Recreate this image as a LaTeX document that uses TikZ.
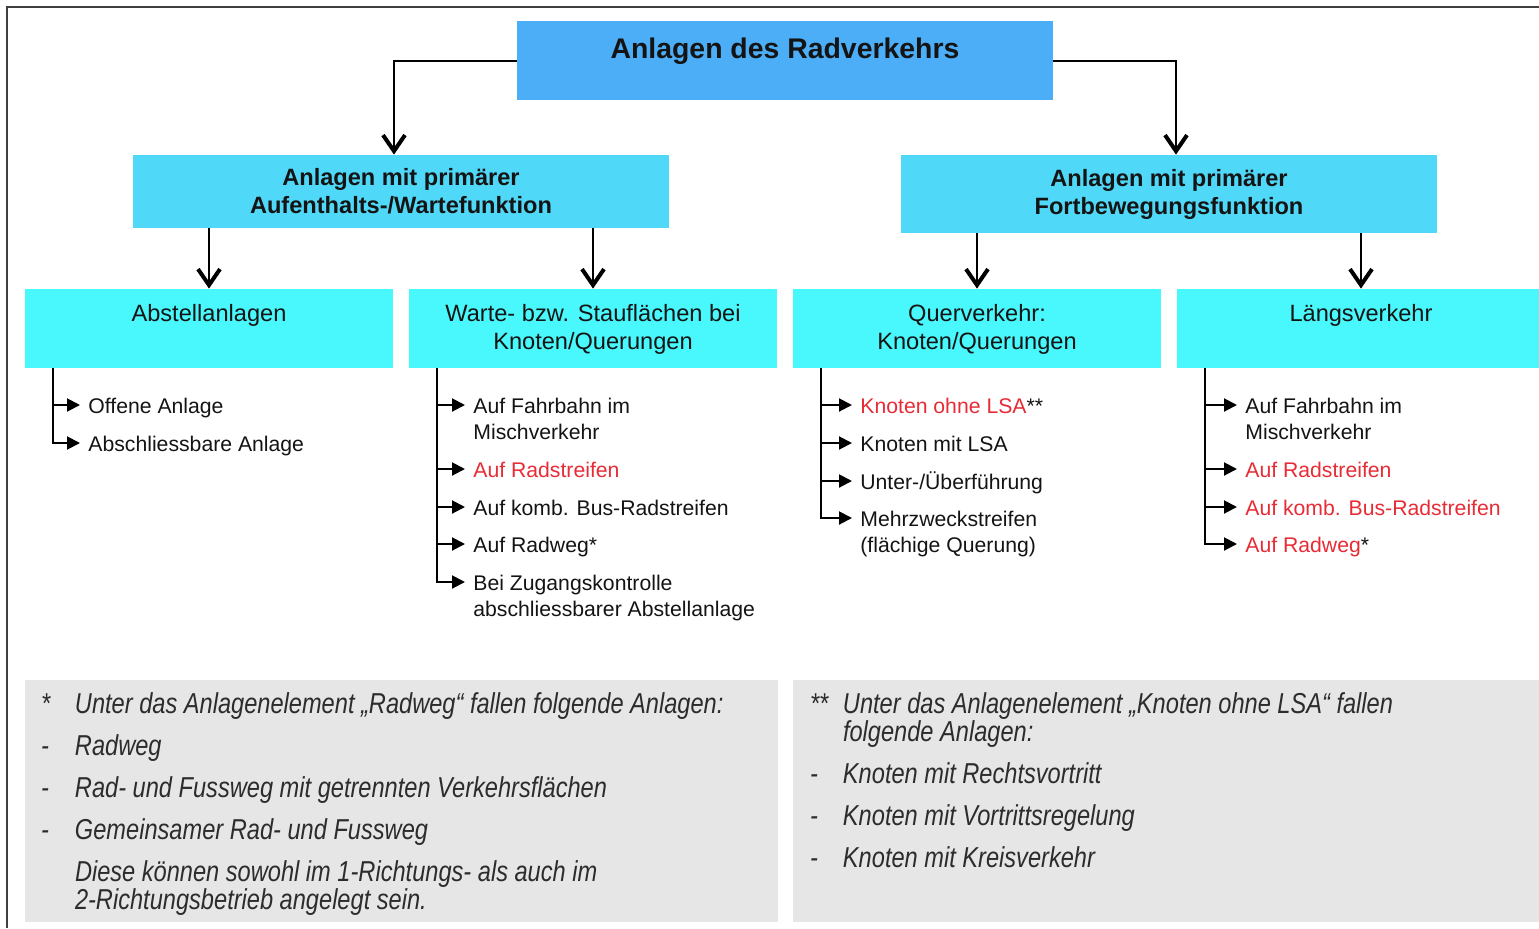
\documentclass[tikz,border=0pt]{standalone}
\usepackage{fontspec}
\setmainfont{Liberation Sans}
\newfontfamily\notefont[FakeStretch=0.82]{Liberation Sans}
\usepackage{xcolor}
\usepackage{tikz}
\usetikzlibrary{arrows.meta,positioning}
\definecolor{topblue}{RGB}{77,174,248}
\definecolor{midblue}{RGB}{80,216,248}
\definecolor{lowcyan}{RGB}{72,248,252}
\definecolor{notegray}{RGB}{230,230,230}
\definecolor{hired}{RGB}{232,44,54}
\definecolor{ink}{RGB}{20,20,20}
\tikzset{
  topbox/.style={fill=topblue, minimum width=268pt, minimum height=39.5pt, inner sep=0pt},
  titletext/.style={inner sep=0pt, font=\fontsize{14.2}{16}\selectfont\bfseries, text=ink},
  groupbox/.style={fill=midblue, minimum width=268pt, align=center, font=\fontsize{11.8}{14}\selectfont\bfseries, text=ink},
  typebox/.style={fill=lowcyan, minimum width=184pt, minimum height=39.5pt, inner sep=0pt},
  typetext/.style={inner sep=0pt, align=center, font=\fontsize{11.8}{14}\selectfont, text=ink},
  entry/.style={anchor=north west, inner sep=0pt, align=left, font=\fontsize{10.6}{13}\selectfont, text=ink},
  redentry/.style={entry, text=hired},
  notebox/.style={fill=notegray, minimum height=121pt, inner sep=0pt},
  notetext/.style={inner sep=0pt, align=left, font=\notefont\itshape\fontsize{14.4}{14}\selectfont, text=ink!90},
  mainarrow/.style={line width=1pt, -{Straight Barb[length=8pt, width=11pt, line width=2pt]}},
  entryarrow/.style={line width=1pt, -{Triangle[length=6.5pt, width=6.5pt]}, shorten >=4pt},
}
\begin{document}
\begin{tikzpicture}[x=0.5pt, y=-0.5pt]
\clip (0,0) rectangle (1539,928);
\fill[white] (0,0) rectangle (1539,928);
\draw[black!75, line width=0.8pt] (7,928) -- (7,7) -- (1539,7);

% top level
\node[topbox] (radverkehr) at (785,60.5) {};
\node[titletext, below=8.5pt of radverkehr.north] (titel) {Anlagen des Radverkehrs};

% second level
\node[groupbox, minimum height=36.5pt] (aufenthalt) at (401,191.5) {Anlagen mit primärer\\Aufenthalts-/Wartefunktion};
\node[groupbox, minimum height=39pt] (fortbewegung) at (1169,194) {Anlagen mit primärer\\Fortbewegungsfunktion};
\draw[mainarrow] (radverkehr.west) -| ([xshift=-3.5pt]aufenthalt.north);
\draw[mainarrow] (radverkehr.east) -| ([xshift=3.5pt]fortbewegung.north);

% third level
\node[typebox] (abstellen) at (209,328.5) {};
\node[typetext, below=7.75pt of abstellen.north] (abstellentext) {Abstellanlagen};
\node[typebox] (warten) at (593,328.5) {};
\node[typetext, below=7.75pt of warten.north] (wartentext) {Warte- bzw. Stauflächen bei\\Knoten/Querungen};
\node[typebox] (quer) at (977,328.5) {};
\node[typetext, below=7.75pt of quer.north] (quertext) {Querverkehr:\\Knoten/Querungen};
\node[typebox] (laengs) at (1361,328.5) {};
\node[typetext, below=7.75pt of laengs.north] (laengstext) {Längsverkehr};
\draw[mainarrow] (aufenthalt.south -| abstellen.north) -- (abstellen.north);
\draw[mainarrow] (aufenthalt.south -| warten.north) -- (warten.north);
\draw[mainarrow] (fortbewegung.south -| quer.north) -- (quer.north);
\draw[mainarrow] (fortbewegung.south -| laengs.north) -- (laengs.north);

% Abstellanlagen
\coordinate (abstellenstem) at ([xshift=14pt]abstellen.south west);
\node[entry] (offen) at (88,397.5) {Offene Anlage};
\node[entry] (abschliessbar) at (88,435.5) {Abschliessbare Anlage};
\draw[entryarrow] (abstellenstem) |- ([yshift=-3.75pt]offen.north west);
\draw[entryarrow] (abstellenstem) |- ([yshift=-3.75pt]abschliessbar.north west);

% Warteflaechen
\coordinate (wartenstem) at ([xshift=14pt]warten.south west);
\node[entry] (wfahrbahn) at (473,397.5) {Auf Fahrbahn im\\Mischverkehr};
\node[redentry] (wradstreifen) at (473,461.5) {Auf Radstreifen};
\node[entry] (wbusstreifen) at (473,499.5) {Auf komb. Bus-Radstreifen};
\node[entry] (wradweg) at (473,536.5) {Auf Radweg*};
\node[entry] (wzugang) at (473,574.5) {Bei Zugangskontrolle\\abschliessbarer Abstellanlage};
\draw[entryarrow] (wartenstem) |- ([yshift=-3.75pt]wfahrbahn.north west);
\draw[entryarrow] (wartenstem) |- ([yshift=-3.75pt]wradstreifen.north west);
\draw[entryarrow] (wartenstem) |- ([yshift=-3.75pt]wbusstreifen.north west);
\draw[entryarrow] (wartenstem) |- ([yshift=-3.75pt]wradweg.north west);
\draw[entryarrow] (wartenstem) |- ([yshift=-3.75pt]wzugang.north west);

% Querverkehr
\coordinate (querstem) at ([xshift=14pt]quer.south west);
\node[redentry] (qohne) at (860,397.5) {Knoten ohne LSA\textcolor{ink}{**}};
\node[entry] (qmit) at (860,435.5) {Knoten mit LSA};
\node[entry] (qunter) at (860,473.5) {Unter-/\smash{Ü}berführung};
\node[entry] (qmehrzweck) at (860,510.5) {Mehrzweckstreifen\\(flächige Querung)};
\draw[entryarrow] (querstem) |- ([yshift=-3.75pt]qohne.north west);
\draw[entryarrow] (querstem) |- ([yshift=-3.75pt]qmit.north west);
\draw[entryarrow] (querstem) |- ([yshift=-3.75pt]qunter.north west);
\draw[entryarrow] (querstem) |- ([yshift=-3.75pt]qmehrzweck.north west);

% Laengsverkehr
\coordinate (laengsstem) at ([xshift=14pt]laengs.south west);
\node[entry] (lfahrbahn) at (1245,397.5) {Auf Fahrbahn im\\Mischverkehr};
\node[redentry] (lradstreifen) at (1245,461.5) {Auf Radstreifen};
\node[redentry] (lbusstreifen) at (1245,499.5) {Auf komb. Bus-Radstreifen};
\node[redentry] (lradweg) at (1245,536.5) {Auf Radweg\textcolor{ink}{*}};
\draw[entryarrow] (laengsstem) |- ([yshift=-3.75pt]lfahrbahn.north west);
\draw[entryarrow] (laengsstem) |- ([yshift=-3.75pt]lradstreifen.north west);
\draw[entryarrow] (laengsstem) |- ([yshift=-3.75pt]lbusstreifen.north west);
\draw[entryarrow] (laengsstem) |- ([yshift=-3.75pt]lradweg.north west);

% footnotes
\node[notebox, minimum width=376.5pt] (radwegnote) at (401.5,801) {};
\node[notetext, below right=6.5pt and 8pt of radwegnote.north west] (radwegtext)
  {\makebox[17pt][l]{*}Unter das Anlagenelement „Radweg“ fallen folgende Anlagen:\\[7pt]
   \makebox[17pt][l]{-}Radweg\\[7pt]
   \makebox[17pt][l]{-}Rad- und Fussweg mit getrennten Verkehrsflächen\\[7pt]
   \makebox[17pt][l]{-}Gemeinsamer Rad- und Fussweg\\[7pt]
   \hspace*{17pt}Diese können sowohl im 1-Richtungs- als auch im\\
   \hspace*{17pt}2-Richtungsbetrieb angelegt sein.};
\node[notebox, minimum width=376pt] (knotennote) at (1169,801) {};
\node[notetext, below right=6.5pt and 8.5pt of knotennote.north west] (knotentext)
  {\makebox[16.5pt][l]{**}Unter das Anlagenelement „Knoten ohne LSA“ fallen\\
   \hspace*{16.5pt}folgende Anlagen:\\[7pt]
   \makebox[16.5pt][l]{-}Knoten mit Rechtsvortritt\\[7pt]
   \makebox[16.5pt][l]{-}Knoten mit Vortrittsregelung\\[7pt]
   \makebox[16.5pt][l]{-}Knoten mit Kreisverkehr};
\end{tikzpicture}
\end{document}
